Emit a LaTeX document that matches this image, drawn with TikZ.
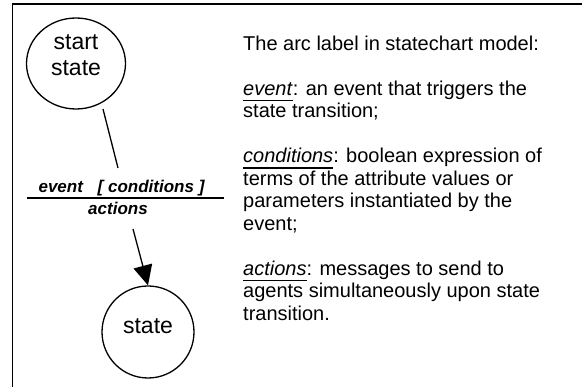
\documentclass[tikz,border=0pt]{standalone}
\usepackage{fontspec}
\setmainfont{Liberation Sans}
\usepackage{tikz}
\usetikzlibrary{shapes,arrows.meta}
\newcommand{\statefont}{\fontsize{23}{26}\selectfont}
\newcommand{\arcfont}{\fontsize{17}{20}\selectfont\bfseries\itshape}
\newcommand{\notefont}{\fontsize{20}{22.5}\selectfont}
% underlined keyword in the notes
\newcommand{\kw}[1]{\setbox0\hbox{\textit{#1}}\rlap{\rule[-6.3pt]{\wd0}{1.8pt}}\box0}

\begin{document}
\begin{tikzpicture}[x=1pt,y=-1pt,
    statebox/.style={draw, line width=1.3pt, inner sep=0pt},
    link/.style={line width=1.3pt}]
            \useasboundingbox (0,0) rectangle (582,387);
            % frame
            \draw[line width=1.6pt] (12.5,387) -- (12.5,4) -- (582,4);

            % states
            \node[statebox, ellipse, minimum width=99pt, minimum height=91pt] (start) at (76,63.5) {};
            \node[font=\statefont, align=center, yshift=8.5pt] (startname) at (start) {start\\state};
            \node[statebox, circle, minimum size=92pt] (state) at (148,332) {};
            \node[font=\statefont, yshift=6pt] (statename) at (state) {state};

            % arc label
            \node[font=\arcfont, anchor=base] (event) at (121.5,193) {event\hspace{10pt} [ conditions ]};
            \draw[link] (27,198) -- (224,198);
            \node[font=\arcfont, anchor=base] (actions) at (118,215) {actions};

            % transition
            \coordinate (from) at (103,109);
            \coordinate (upper) at (118,168);
            \coordinate (lower) at (133,229);
            \draw[link] (from) -- (upper);
            \draw[link, -{Triangle[length=20pt,width=19pt]}] (lower) -- (state.north);

            % notes
            \node[font=\notefont, align=left, anchor=north west, inner sep=0pt] (notes) at (243,35.5) {%
                The arc label in statechart model:\\[22.5pt]
                \kw{event}: an event that triggers the\\
                state transition;\\[22.5pt]
                \kw{conditions}: boolean expression of\\
                terms of the attribute values or\\
                parameters instantiated by the\\
                event;\\[22.5pt]
                \kw{actions}: messages to send to\\
                agents simultaneously upon state\\
                transition.};
        \end{tikzpicture}
\end{document}
